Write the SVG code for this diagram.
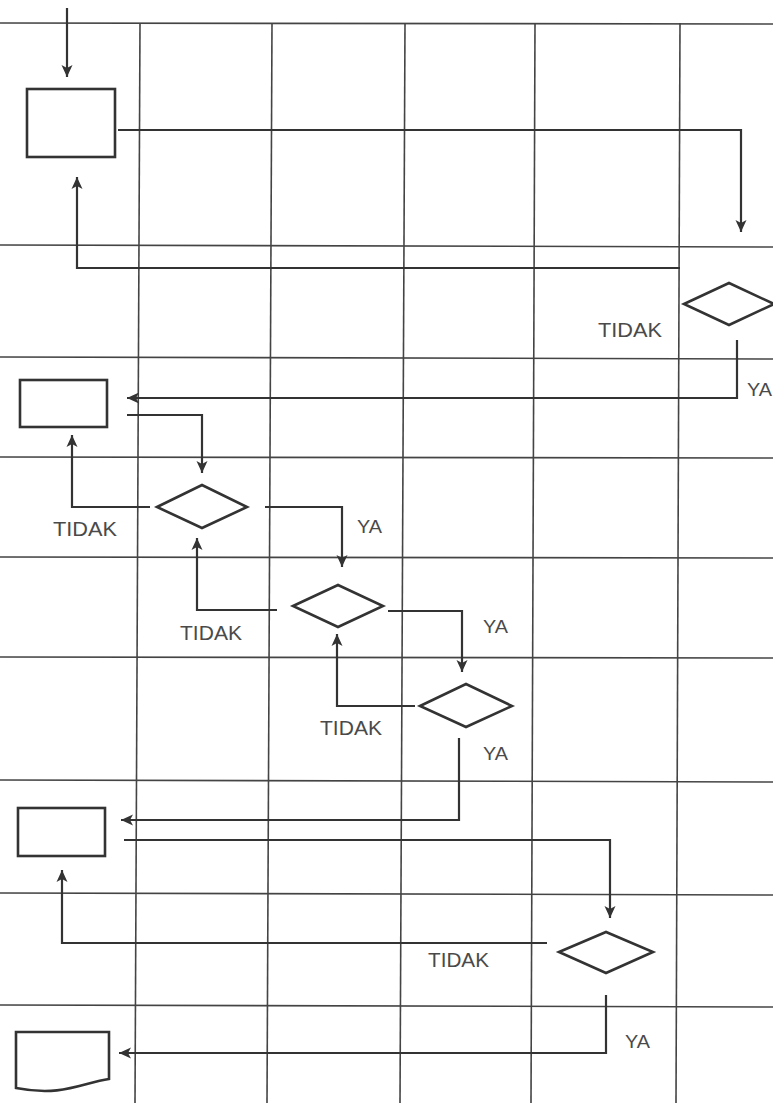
<svg xmlns="http://www.w3.org/2000/svg" width="773" height="1103" viewBox="0 0 773 1103">
<style>
.grid{stroke:#444;stroke-width:1.6;fill:none}
.conn{stroke:#333;stroke-width:2.2;fill:none}
.shape{stroke:#333;stroke-width:2.6;fill:#fff}
.lbl{font-family:"Liberation Sans",Arial,sans-serif;fill:#4a4a4a}
.t{font-size:21px}
.y{font-size:18px}
</style>
<defs>
<marker id="ah" markerUnits="userSpaceOnUse" markerWidth="13" markerHeight="13" refX="12" refY="6.5" orient="auto">
<path d="M0,1 L12,6.5 L0,12 L3,6.5 Z" fill="#333"/>
</marker>
</defs>
<rect width="773" height="1103" fill="#fff"/>
<g id="grid" class="grid">
<line x1="0" y1="23" x2="773" y2="24"/>
<line x1="0" y1="245" x2="773" y2="247"/>
<line x1="0" y1="357" x2="773" y2="359"/>
<line x1="0" y1="457" x2="773" y2="458"/>
<line x1="0" y1="557" x2="773" y2="558"/>
<line x1="0" y1="657" x2="773" y2="658"/>
<line x1="0" y1="780" x2="773" y2="782"/>
<line x1="0" y1="893" x2="773" y2="895"/>
<line x1="0" y1="1005" x2="773" y2="1007"/>
<line x1="140" y1="23" x2="135" y2="1103"/>
<line x1="272" y1="23" x2="267" y2="1103"/>
<line x1="405" y1="23" x2="400" y2="1103"/>
<line x1="535" y1="23" x2="531" y2="1103"/>
<line x1="680" y1="23" x2="676" y2="1103"/>
</g>
<g id="connectors" class="conn">
<path d="M67,8 V77" marker-end="url(#ah)"/>
<path d="M118,130 H741 V232" marker-end="url(#ah)"/>
<path d="M680,268 H77 V177" marker-end="url(#ah)"/>
<path d="M737,340 V398 H127" marker-end="url(#ah)"/>
<path d="M127,415 H202 V473" marker-end="url(#ah)"/>
<path d="M150,507 H72 V435" marker-end="url(#ah)"/>
<path d="M265,507 H342 V567" marker-end="url(#ah)"/>
<path d="M277,610 H197 V538" marker-end="url(#ah)"/>
<path d="M388,611 H462 V672" marker-end="url(#ah)"/>
<path d="M415,706 H337 V634" marker-end="url(#ah)"/>
<path d="M459,738 V820 H121" marker-end="url(#ah)"/>
<path d="M124,840 H610 V918" marker-end="url(#ah)"/>
<path d="M547,943 H62 V870" marker-end="url(#ah)"/>
<path d="M606,995 V1053 H119" marker-end="url(#ah)"/>
</g>
<g id="box1"><rect class="shape" x="27" y="89" width="88" height="68"/></g>
<g id="decision1"><polygon class="shape" points="684,304 729,283 774,304 729,325"/></g>
<g id="box2"><rect class="shape" x="20" y="380" width="87" height="47"/></g>
<g id="decision2"><polygon class="shape" points="157,507 202,485 247,507 202,528"/></g>
<g id="decision3"><polygon class="shape" points="293,606 338,585 383,606 338,627"/></g>
<g id="decision4"><polygon class="shape" points="420,706 466,684 512,706 466,727"/></g>
<g id="box3"><rect class="shape" x="18" y="808" width="87" height="48"/></g>
<g id="decision5"><polygon class="shape" points="559,952 606,932 653,952 606,973"/></g>
<g id="document"><path class="shape" d="M16,1032 H109 V1079 C82,1083 62,1097 16,1088 Z"/></g>
<g id="labels" class="lbl">
<text class="t" x="598" y="337" textLength="64" lengthAdjust="spacingAndGlyphs">TIDAK</text>
<text class="y" x="747" y="396" textLength="25" lengthAdjust="spacingAndGlyphs">YA</text>
<text class="t" x="53" y="536" textLength="64" lengthAdjust="spacingAndGlyphs">TIDAK</text>
<text class="y" x="357" y="533" textLength="25" lengthAdjust="spacingAndGlyphs">YA</text>
<text class="t" x="180" y="640" textLength="62" lengthAdjust="spacingAndGlyphs">TIDAK</text>
<text class="y" x="483" y="633" textLength="25" lengthAdjust="spacingAndGlyphs">YA</text>
<text class="t" x="320" y="735" textLength="62" lengthAdjust="spacingAndGlyphs">TIDAK</text>
<text class="y" x="483" y="760" textLength="25" lengthAdjust="spacingAndGlyphs">YA</text>
<text class="t" x="428" y="967" textLength="61" lengthAdjust="spacingAndGlyphs">TIDAK</text>
<text class="y" x="625" y="1048" textLength="25" lengthAdjust="spacingAndGlyphs">YA</text>
</g>
</svg>
